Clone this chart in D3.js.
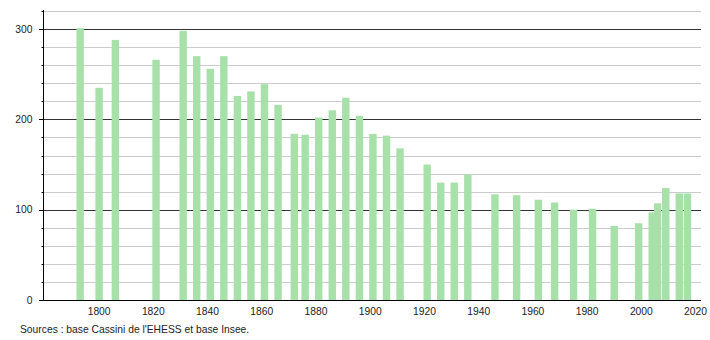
<!DOCTYPE html>
<html lang="fr">

<head>
    <meta charset="UTF-8">
    <title>Population</title>
    <script src="https://d3js.org/d3.v7.min.js"></script>
    <style>
        body { margin: 0; background: #fff; }
        text { font-family: "Liberation Sans", Arial, sans-serif; font-size: 10.3px; fill: #222; }
    </style>
</head>

<body>
    <div id="container"></div>
    <script>
        // années de recensement et population
        var years = [1793, 1800, 1806, 1821, 1831, 1836, 1841, 1846, 1851, 1856, 1861, 1866,
            1872, 1876, 1881, 1886, 1891, 1896, 1901, 1906, 1911, 1921, 1926, 1931, 1936,
            1946, 1954, 1962, 1968, 1975, 1982, 1990, 1999, 2004, 2006, 2009, 2014, 2017];
        var population = [301, 235, 288, 266, 298, 270, 256, 270, 226, 231, 239, 216,
            184, 183, 202, 210, 224, 204, 184, 182, 168, 150, 130, 130, 139,
            117, 116, 111, 108, 100, 101, 82, 85, 97, 107, 124, 118, 118];
        var xTicks = [1800, 1820, 1840, 1860, 1880, 1900, 1920, 1940, 1960, 1980, 2000, 2020];
        var yMajor = [0, 100, 200, 300];
        var yMinor = d3.range(20, 321, 20).filter(v => v % 100 != 0);
        var source = "Sources : base Cassini de l'EHESS et base Insee.";

        var width = 710, height = 340;
        var mLeft = 43, mRight = 701, mTop = 11, mBottom = 300;

        var x = d3.scaleLinear().domain([1779.3, 2022]).range([mLeft, mRight]);
        var y = d3.scaleLinear().domain([0, 320]).range([mBottom, mTop]);
        var barW = 7.4;

        var svg = d3.select("#container")
            .append("svg")
            .attr("width", width)
            .attr("height", height);

        // grille secondaire
        svg.append("g")
            .selectAll("line")
            .data(yMinor)
            .enter()
            .append("line")
            .attr("x1", mLeft)
            .attr("x2", mRight)
            .attr("y1", (d) => Math.round(y(d)) + 0.5)
            .attr("y2", (d) => Math.round(y(d)) + 0.5)
            .attr("stroke", "#cccccc");

        // grille principale
        svg.append("g")
            .selectAll("line")
            .data(yMajor.filter(d => d > 0))
            .enter()
            .append("line")
            .attr("x1", mLeft)
            .attr("x2", mRight)
            .attr("y1", (d) => Math.round(y(d)) + 0.5)
            .attr("y2", (d) => Math.round(y(d)) + 0.5)
            .attr("stroke", "#333333");

        // barres
        svg.append("g")
            .selectAll("rect")
            .data(years)
            .enter()
            .append("rect")
            .attr("x", (d) => x(d) - barW / 2)
            .attr("y", (d, i) => y(population[i]))
            .attr("width", barW)
            .attr("height", (d, i) => y(0) - y(population[i]))
            .attr("fill", "#a8e0aa");

        // axe vertical
        var yAxis = svg.append("g")
            .attr("transform", "translate(" + (mLeft + 0.5) + ",0)");
        yAxis.append("line")
            .attr("y1", mTop - 1)
            .attr("y2", mBottom)
            .attr("stroke", "#000");
        yAxis.selectAll("line.minor")
            .data(yMinor)
            .enter()
            .append("line")
            .attr("class", "minor")
            .attr("x1", -2)
            .attr("x2", 0)
            .attr("y1", (d) => Math.round(y(d)) + 0.5)
            .attr("y2", (d) => Math.round(y(d)) + 0.5)
            .attr("stroke", "#000");
        yAxis.selectAll("line.major")
            .data(yMajor)
            .enter()
            .append("line")
            .attr("class", "major")
            .attr("x1", -4.5)
            .attr("x2", 0)
            .attr("y1", (d) => Math.round(y(d)) + 0.5)
            .attr("y2", (d) => Math.round(y(d)) + 0.5)
            .attr("stroke", "#000");
        yAxis.selectAll("text")
            .data(yMajor)
            .enter()
            .append("text")
            .attr("x", -11)
            .attr("y", (d) => y(d) + 3.5)
            .attr("text-anchor", "end")
            .text((d) => d);

        // axe horizontal
        svg.append("line")
            .attr("x1", mLeft)
            .attr("x2", mRight)
            .attr("y1", mBottom + 0.5)
            .attr("y2", mBottom + 0.5)
            .attr("stroke", "#000");
        svg.append("g")
            .selectAll("text")
            .data(xTicks)
            .enter()
            .append("text")
            .attr("x", (d) => x(d))
            .attr("y", mBottom + 15)
            .attr("text-anchor", "middle")
            .text((d) => d);

        svg.append("text")
            .attr("x", 20)
            .attr("y", 333)
            .text(source);
    </script>
</body>

</html>
